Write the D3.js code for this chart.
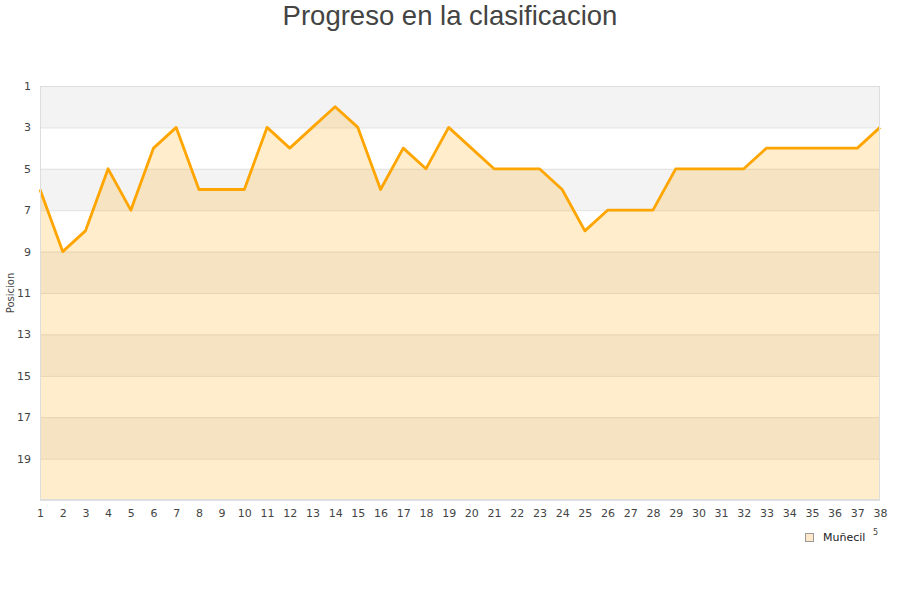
<!DOCTYPE html>
<html><head><meta charset="utf-8">
<script src="https://cdn.jsdelivr.net/npm/d3@7"></script>
<style>body{margin:0;background:#fff}</style>
</head><body>
<svg id="c" width="900" height="600"></svg>
<script>
const jornadas = d3.range(1, 39);
const posiciones = [6,9,8,5,7,4,3,6,6,6,3,4,3,2,3,6,4,5,3,4,5,5,5,6,8,7,7,7,5,5,5,5,4,4,4,4,4,3];
const yTicks = [1,3,5,7,9,11,13,15,17,19];
const bandas = [[1,3],[5,7],[9,11],[13,15],[17,19]];
const serie = "Muñecil";
const titulo = "Progreso en la clasificacion";

const svg = d3.select("#c");
const L = 40, R = 880, T = 86, B = 500;
const x = d3.scaleLinear().domain([1, 38]).range([L, R]);
const y = d3.scaleLinear().domain([1, 21]).range([T, B]);

svg.append("text").attr("x", 450).attr("y", 25).attr("text-anchor", "middle")
  .attr("font-family", "Liberation Sans, Arial, sans-serif").attr("font-size", 27.5).attr("fill", "#444").text(titulo);

svg.append("rect").attr("x", L).attr("y", T).attr("width", R - L).attr("height", B - T).attr("fill", "#fff");
svg.selectAll(".band").data(bandas).join("rect")
  .attr("x", L).attr("width", R - L).attr("y", d => y(d[0])).attr("height", d => y(d[1]) - y(d[0])).attr("fill", "#f3f3f3");
svg.selectAll(".grid").data(yTicks.slice(1).concat([21])).join("line")
  .attr("x1", L).attr("x2", R).attr("y1", d => y(d) + 0.5).attr("y2", d => y(d) + 0.5)
  .attr("stroke", "#e0e0e0").attr("stroke-width", 1);

const area = d3.area().x((d, i) => x(jornadas[i])).y0(y(21)).y1(d => y(d));
svg.append("path").datum(posiciones).attr("d", area).attr("fill", "rgba(255,165,0,0.2)");
const line = d3.line().x((d, i) => x(jornadas[i])).y(d => y(d));
svg.append("path").datum(posiciones).attr("d", line).attr("fill", "none")
  .attr("stroke", "#ffa500").attr("stroke-width", 2.8).attr("stroke-linejoin", "round");

svg.append("rect").attr("x", L + 0.5).attr("y", T + 0.5).attr("width", R - L - 1).attr("height", B - T - 1)
  .attr("fill", "none").attr("stroke", "#ddd");

const font = "DejaVu Sans, Verdana, sans-serif";
const ya = svg.append("g").attr("transform", `translate(${L},0)`)
  .call(d3.axisLeft(y).tickValues(yTicks).tickSize(0).tickPadding(9));
ya.select(".domain").remove();
ya.selectAll("text").attr("font-family", font).attr("font-size", 11).attr("fill", "#444");

const xa = svg.append("g").attr("transform", `translate(0,${B})`)
  .call(d3.axisBottom(x).tickValues(jornadas).tickFormat(d3.format("d")).tickSize(0).tickPadding(9));
xa.select(".domain").remove();
xa.selectAll("text").attr("font-family", font).attr("font-size", 11).attr("fill", "#444");

svg.append("text").attr("transform", "translate(14,293) rotate(-90)").attr("text-anchor", "middle")
  .attr("font-family", font).attr("font-size", 10).attr("fill", "#444").text("Posicion");

svg.append("rect").attr("x", 805.5).attr("y", 533.5).attr("width", 8).attr("height", 8)
  .attr("fill", "#fde9c9").attr("stroke", "#999");
svg.append("text").attr("x", 823).attr("y", 541).attr("font-family", font).attr("font-size", 11)
  .attr("fill", "#222").text(serie);
svg.append("text").attr("x", 873).attr("y", 535).attr("font-family", font).attr("font-size", 8)
  .attr("fill", "#444").text("5");
</script>
</body></html>
